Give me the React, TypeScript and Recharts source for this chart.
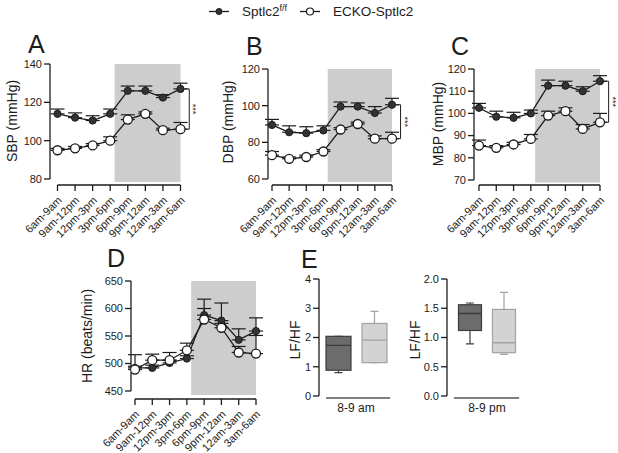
import React from 'react'
import { Bar, ComposedChart, ErrorBar, Line, ReferenceArea, ReferenceLine, Scatter, XAxis, YAxis } from 'recharts'

const FONT = '"Liberation Sans", Arial, Helvetica, sans-serif'
const INK = '#1c1c1c'
const SHADE = '#cdcdcd'

// time-of-day bins (x axis of A-D)
const periods = ['6am-9am', '9am-12pm', '12pm-3pm', '3pm-6pm', '6pm-9pm', '9pm-12am', '12am-3am', '3am-6am']
const darkStart = 3.25 // shaded "dark phase" begins between 3pm-6pm and 6pm-9pm

// A: systolic BP (mean, SEM)
const sbpFlox = [114, 112, 110.5, 114, 126, 126, 122.5, 127]
const sbpFloxErr = [2.5, 2.5, 2.5, 2.5, 2.5, 2.5, 1.5, 3]
const sbpKo = [95, 96, 97.5, 100, 111, 114, 105.5, 106]
const sbpKoErr = [1, 1, 1, 2, 2.5, 1, 1, 3.5]
const sbpTicks = [80, 100, 120, 140]

// B: diastolic BP
const dbpFlox = [89.5, 85.5, 85, 86.5, 99.5, 99.5, 96, 100.5]
const dbpFloxErr = [3, 3.5, 3.5, 2.5, 2.5, 2, 3.5, 3.5]
const dbpKo = [73, 71, 72, 75, 87, 90, 82, 82]
const dbpKoErr = [2, 1, 1, 1, 1, 1, 1.5, 3.5]
const dbpTicks = [60, 80, 100, 120]

// C: mean BP
const mbpFlox = [102.5, 98.5, 98, 100, 112.5, 112.5, 110, 114.5]
const mbpFloxErr = [2, 2.5, 2.5, 1.5, 2.5, 2, 2, 2.5]
const mbpKo = [85.5, 84.5, 86, 88.5, 99, 101, 93, 96]
const mbpKoErr = [2.5, 1, 1, 2, 2, 1.5, 2, 4]
const mbpTicks = [70, 80, 90, 100, 110, 120]

// D: heart rate
const hrFlox = [492, 492, 501, 509, 588, 578, 543, 559]
const hrFloxErr = [24, 5, 5, 5, 29, 32, 20, 24]
const hrKo = [489, 506, 506, 524, 580, 565, 520, 518]
const hrKoErr = [6, 11, 14, 13, 20, 8, 11, 33]
const hrTicks = [450, 500, 550, 600, 650]

// E: LF/HF box plots (min, Q1, median, Q3, max) for Sptlc2 f/f and ECKO-Sptlc2
const hrvGroups = ['Sptlc2f/f', 'ECKO-Sptlc2']
const amMin = [0.8, 1.14]
const amQ1 = [0.88, 1.14]
const amMed = [1.73, 1.91]
const amQ3 = [2.04, 2.48]
const amMax = [2.04, 2.89]
const amTicks = [0, 1, 2, 3, 4]
const pmMin = [0.89, 0.71]
const pmQ1 = [1.12, 0.74]
const pmMed = [1.41, 0.91]
const pmQ3 = [1.56, 1.48]
const pmMax = [1.59, 1.77]
const pmTicks = [0, 0.5, 1, 1.5, 2]

const BOX_FILL = ['#6c6c6c', '#d3d3d3']
const BOX_EDGE = ['#3c3c3c', '#a2a2a2']

type Frame = { axisX: number; firstX: number; lastX: number; topY: number; botY: number; baseY: number }

function PeriodTick({ x, y, payload }: any) {
  const ax = x + 5
  const ay = y + 8
  return (
    <text x={ax} y={ay} transform={`rotate(-45 ${ax} ${ay})`} textAnchor="end" fontSize={11} fill={INK} fontFamily={FONT}>
      {periods[payload.value]}
    </text>
  )
}

// "***" written vertically beside the bracket
const Stars = ({ cx, cy }: any) => (
  <text x={cx} y={cy} transform={`rotate(90 ${cx} ${cy})`} textAnchor="middle" dominantBaseline="central" fontSize={9} fill={INK} fontFamily={FONT}>
    ***
  </text>
)

const FilledDot = ({ cx, cy }: any) => <circle cx={cx} cy={cy} r={3.6} fill="#333" stroke={INK} strokeWidth={1} />
const OpenDot = ({ cx, cy }: any) => <circle cx={cx} cy={cy} r={4.5} fill="#fff" stroke={INK} strokeWidth={1.3} />

function TimePanel({
  frame,
  ticks,
  flox,
  floxErr,
  ko,
  koErr,
  labelRoom,
  bracket = false,
}: {
  frame: Frame
  ticks: number[]
  flox: number[]
  floxErr: number[]
  ko: number[]
  koErr: number[]
  labelRoom: number
  bracket?: boolean
}) {
  const last = periods.length - 1
  const step = (frame.lastX - frame.firstX) / last
  const xMin = -(frame.firstX - frame.axisX) / step
  const xMax = last + 1.25
  const yMin = ticks[0]
  const yMax = ticks[ticks.length - 1]
  const pxPer = (frame.botY - frame.topY) / (yMax - yMin)
  const yFloor = yMin - (frame.baseY - frame.botY) / pxPer
  const shadeFloor = yMin - (yMin - yFloor) * 0.5
  const margin = { top: 6, right: 0, bottom: 0, left: 4 }
  const yW = 40
  const width = margin.left + yW + (xMax - xMin) * step + margin.right
  const height = margin.top + (frame.baseY - frame.topY) + labelRoom
  const data = periods.map((p, i) => ({
    i,
    p,
    flox: flox[i],
    floxErr: [0, floxErr[i]],
    ko: ko[i],
    koErr: [0, koErr[i]],
  }))
  const dTop = flox[last]
  const dBot = ko[last]
  const starData = [{ i: last + 0.74, star: (dTop + dBot) / 2 }]
  const axisStroke = { stroke: INK, strokeWidth: 1.3 }

  return (
    <div style={{ position: 'absolute', left: frame.axisX - yW - margin.left, top: frame.topY - margin.top }}>
      <ComposedChart width={width} height={height} data={data} margin={margin}>
        <ReferenceArea x1={darkStart} x2={last} y1={shadeFloor} y2={yMax} fill={SHADE} fillOpacity={1} stroke="none" />
        <XAxis
          type="number"
          dataKey="i"
          domain={[xMin, xMax]}
          ticks={periods.map((_, i) => i)}
          interval={0}
          allowDataOverflow
          axisLine={false}
          tickLine={axisStroke}
          tickSize={6}
          height={labelRoom}
          tick={<PeriodTick />}
        />
        <YAxis
          type="number"
          domain={[yFloor, yMax]}
          ticks={ticks}
          interval={0}
          allowDataOverflow
          axisLine={false}
          tickLine={axisStroke}
          tickSize={6}
          width={yW}
          tick={{ fontSize: 11, fill: INK, fontFamily: FONT }}
        />
        <ReferenceLine segment={[{ x: xMin, y: yMin }, { x: xMin, y: yMax }]} {...axisStroke} ifOverflow="visible" />
        <ReferenceLine segment={[{ x: 0, y: yFloor }, { x: last, y: yFloor }]} {...axisStroke} ifOverflow="visible" />
        {/* significance bracket at the last bin */}
        {bracket && (
          <ReferenceLine segment={[{ x: last + 0.25, y: dTop }, { x: last + 0.5, y: dTop }]} stroke={INK} strokeWidth={1} ifOverflow="visible" />
        )}
        {bracket && (
          <ReferenceLine segment={[{ x: last + 0.25, y: dBot }, { x: last + 0.5, y: dBot }]} stroke={INK} strokeWidth={1} ifOverflow="visible" />
        )}
        {bracket && (
          <ReferenceLine segment={[{ x: last + 0.5, y: dTop }, { x: last + 0.5, y: dBot }]} stroke={INK} strokeWidth={1} ifOverflow="visible" />
        )}
        <Line dataKey="flox" stroke={INK} strokeWidth={1.3} dot={false} isAnimationActive={false}>
          <ErrorBar dataKey="floxErr" direction="y" width={7} stroke={INK} strokeWidth={1.2} />
        </Line>
        <Line dataKey="ko" stroke={INK} strokeWidth={1.3} dot={false} isAnimationActive={false}>
          <ErrorBar dataKey="koErr" direction="y" width={7} stroke={INK} strokeWidth={1.2} />
        </Line>
        <Scatter dataKey="flox" shape={<FilledDot />} isAnimationActive={false} />
        <Scatter dataKey="ko" shape={<OpenDot />} isAnimationActive={false} />
        {bracket && <Scatter data={starData} dataKey="star" shape={<Stars />} isAnimationActive={false} />}
      </ComposedChart>
    </div>
  )
}

function BoxShape(props: any) {
  const { x, y, width, height, payload, index } = props
  const top = Math.min(y, y + height)
  const bot = Math.max(y, y + height)
  const span = payload.max - payload.min
  const py = (v: number) => top + ((bot - top) * (payload.max - v)) / span
  const cx = x + width / 2
  const edge = BOX_EDGE[index]
  const cap = 4
  return (
    <g>
      <line x1={cx} x2={cx} y1={py(payload.max)} y2={py(payload.q3)} stroke={edge} strokeWidth={1.2} />
      <line x1={cx - cap} x2={cx + cap} y1={py(payload.max)} y2={py(payload.max)} stroke={edge} strokeWidth={1.2} />
      <line x1={cx} x2={cx} y1={py(payload.q1)} y2={py(payload.min)} stroke={edge} strokeWidth={1.2} />
      <line x1={cx - cap} x2={cx + cap} y1={py(payload.min)} y2={py(payload.min)} stroke={edge} strokeWidth={1.2} />
      <rect
        x={x}
        y={py(payload.q3)}
        width={width}
        height={py(payload.q1) - py(payload.q3)}
        fill={BOX_FILL[index]}
        stroke={edge}
        strokeWidth={1.2}
      />
      <line x1={x} x2={x + width} y1={py(payload.med)} y2={py(payload.med)} stroke={edge} strokeWidth={1.4} />
    </g>
  )
}

type BoxFrame = { axisX: number; c0: number; c1: number; topY: number; botY: number; baseY: number; boxW: number }

function BoxPanel({
  frame,
  ticks,
  decimals,
  mins,
  q1s,
  meds,
  q3s,
  maxs,
  lineSpan,
}: {
  frame: BoxFrame
  ticks: number[]
  decimals: number
  mins: number[]
  q1s: number[]
  meds: number[]
  q3s: number[]
  maxs: number[]
  lineSpan: [number, number]
}) {
  const step = frame.c1 - frame.c0
  const xMin = (frame.axisX - frame.c0) / step
  const xMax = 1.55
  const yMin = ticks[0]
  const yMax = ticks[ticks.length - 1]
  const pxPer = (frame.botY - frame.topY) / (yMax - yMin)
  const yFloor = yMin - (frame.baseY - frame.botY) / pxPer
  const margin = { top: 8, right: 2, bottom: 0, left: 4 }
  const yW = 34
  const xH = 10
  const width = margin.left + yW + (xMax - xMin) * step + margin.right
  const height = margin.top + (frame.baseY - frame.topY) + xH
  const data = hrvGroups.map((g, i) => ({ i, g, min: mins[i], q1: q1s[i], med: meds[i], q3: q3s[i], max: maxs[i] }))
  const axisStroke = { stroke: INK, strokeWidth: 1.3 }

  return (
    <div style={{ position: 'absolute', left: frame.axisX - yW - margin.left, top: frame.topY - margin.top }}>
      <ComposedChart width={width} height={height} data={data} margin={margin}>
        <XAxis
          type="number"
          dataKey="i"
          domain={[xMin, xMax]}
          ticks={[0, 1]}
          allowDataOverflow
          axisLine={false}
          tickLine={false}
          tick={false}
          height={xH}
        />
        <YAxis
          type="number"
          domain={[yFloor, yMax]}
          ticks={ticks}
          interval={0}
          allowDataOverflow
          axisLine={false}
          tickLine={axisStroke}
          tickSize={6}
          width={yW}
          tickFormatter={(v: number) => v.toFixed(decimals)}
          tick={{ fontSize: 11, fill: INK, fontFamily: FONT }}
        />
        <ReferenceLine segment={[{ x: xMin, y: yMin }, { x: xMin, y: yMax }]} {...axisStroke} ifOverflow="visible" />
        <ReferenceLine
          segment={[{ x: lineSpan[0], y: yFloor }, { x: lineSpan[1], y: yFloor }]}
          stroke="#555"
          strokeWidth={1.6}
          ifOverflow="visible"
        />
        <Bar dataKey={(d: any) => [d.min, d.max]} barSize={frame.boxW} shape={<BoxShape />} isAnimationActive={false} />
      </ComposedChart>
    </div>
  )
}

function Overlay() {
  const t = { fontFamily: FONT, fill: INK }
  const rot = (x: number, y: number, s: string, size = 14) => (
    <text x={x} y={y} transform={`rotate(-90 ${x} ${y})`} textAnchor="middle" dominantBaseline="central" fontSize={size} {...t}>
      {s}
    </text>
  )
  return (
    <svg width={618} height={453} style={{ position: 'absolute', left: 0, top: 0 }}>
      {/* legend */}
      <line x1={209} x2={229} y1={11.5} y2={11.5} stroke={INK} strokeWidth={1.3} />
      <circle cx={219} cy={11.5} r={3} fill="#333" stroke={INK} />
      <text x={242} y={16} fontSize={13.5} {...t}>
        Sptlc2<tspan dy={-5} fontSize={9}>f/f</tspan>
      </text>
      <line x1={300} x2={320} y1={11.5} y2={11.5} stroke={INK} strokeWidth={1.3} />
      <circle cx={310} cy={11.5} r={3.5} fill="#fff" stroke={INK} strokeWidth={1.2} />
      <text x={333} y={16} fontSize={13.5} {...t}>
        ECKO-Sptlc2
      </text>
      {/* panel letters */}
      <text x={28} y={53} fontSize={25} {...t}>A</text>
      <text x={246} y={55} fontSize={25} {...t}>B</text>
      <text x={451} y={55} fontSize={25} {...t}>C</text>
      <text x={107} y={267} fontSize={25} {...t}>D</text>
      <text x={301} y={268} fontSize={25} {...t}>E</text>
      {/* axis titles */}
      {rot(12, 121, 'SBP (mmHg)')}
      {rot(228, 122, 'DBP (mmHg)')}
      {rot(438, 124, 'MBP (mmHg)')}
      {rot(87, 336, 'HR (beats/min)')}
      {rot(295, 340, 'LF/HF')}
      {rot(415, 340, 'LF/HF')}
      <text x={356} y={412} textAnchor="middle" fontSize={12} {...t}>8-9 am</text>
      <text x={487} y={412} textAnchor="middle" fontSize={12} {...t}>8-9 pm</text>
    </svg>
  )
}

export default function App() {
  return (
    <div style={{ position: 'absolute', left: 0, top: 0, width: 618, height: 453, overflow: 'hidden', background: '#fff' }}>
      <Overlay />
      <TimePanel
        frame={{ axisX: 49.5, firstX: 57, lastX: 180, topY: 64, botY: 179, baseY: 185 }}
        ticks={sbpTicks}
        flox={sbpFlox}
        floxErr={sbpFloxErr}
        ko={sbpKo}
        koErr={sbpKoErr}
        labelRoom={60}
        bracket
      />
      <TimePanel
        frame={{ axisX: 268, firstX: 272, lastX: 392, topY: 69, botY: 179, baseY: 185 }}
        ticks={dbpTicks}
        flox={dbpFlox}
        floxErr={dbpFloxErr}
        ko={dbpKo}
        koErr={dbpKoErr}
        labelRoom={60}
        bracket
      />
      <TimePanel
        frame={{ axisX: 474, firstX: 479, lastX: 600, topY: 69, botY: 180, baseY: 185 }}
        ticks={mbpTicks}
        flox={mbpFlox}
        floxErr={mbpFloxErr}
        ko={mbpKo}
        koErr={mbpKoErr}
        labelRoom={60}
        bracket
      />
      <TimePanel
        frame={{ axisX: 131, firstX: 135, lastX: 256, topY: 281, botY: 391, baseY: 399 }}
        ticks={hrTicks}
        flox={hrFlox}
        floxErr={hrFloxErr}
        ko={hrKo}
        koErr={hrKoErr}
        labelRoom={54}
      />
      <BoxPanel
        frame={{ axisX: 319, c0: 339, c1: 375, topY: 279, botY: 396, baseY: 398, boxW: 25 }}
        ticks={amTicks}
        decimals={0}
        mins={amMin}
        q1s={amQ1}
        meds={amMed}
        q3s={amQ3}
        maxs={amMax}
        lineSpan={[-0.36, 1.42]}
      />
      <BoxPanel
        frame={{ axisX: 447, c0: 469.5, c1: 503.5, topY: 279, botY: 396, baseY: 398, boxW: 23 }}
        ticks={pmTicks}
        decimals={1}
        mins={pmMin}
        q1s={pmQ1}
        meds={pmMed}
        q3s={pmQ3}
        maxs={pmMax}
        lineSpan={[-0.46, 1.46]}
      />
    </div>
  )
}
